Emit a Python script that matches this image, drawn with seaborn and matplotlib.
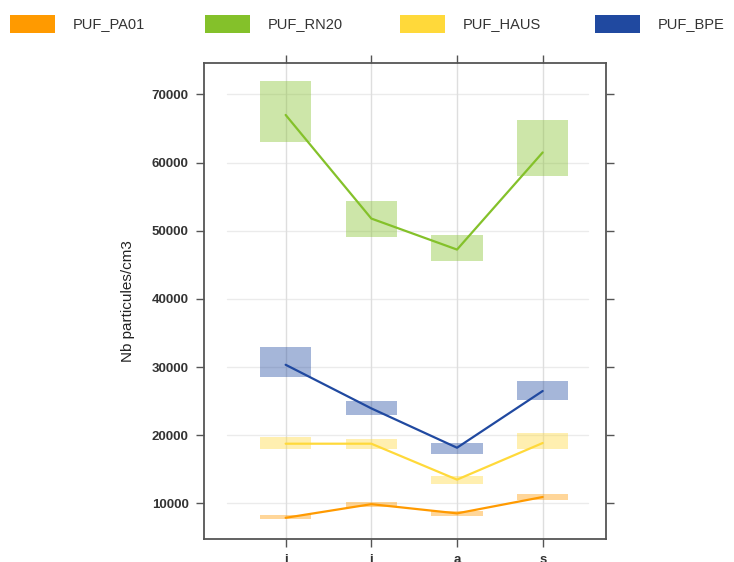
import matplotlib
matplotlib.use("Agg")
import matplotlib.pyplot as plt
import matplotlib.patches as mpatches
import numpy as np
import pandas as pd
import seaborn as sns

# Monthly mean particle counts with their confidence intervals
months = ["j", "j", "a", "s"]
sites = ["PUF_PA01", "PUF_RN20", "PUF_HAUS", "PUF_BPE"]
colors = ["#FF9A00", "#84C12A", "#FFD93A", "#2049A0"]

pa01_mean = [7900, 9900, 8550, 10950]
pa01_low = [7680, 9530, 8210, 10510]
pa01_high = [8360, 10220, 8900, 11350]

rn20_mean = [67000, 51800, 47250, 61500]
rn20_low = [63000, 49150, 45600, 58000]
rn20_high = [72000, 54350, 49400, 66200]

haus_mean = [18770, 18770, 13500, 18870]
haus_low = [18040, 18040, 12900, 17950]
haus_high = [19710, 19460, 14080, 20300]

bpe_mean = [30350, 23950, 18180, 26500]
bpe_low = [28500, 22940, 17220, 25180]
bpe_high = [32900, 25040, 18920, 28000]

means = [pa01_mean, rn20_mean, haus_mean, bpe_mean]
lows = [pa01_low, rn20_low, haus_low, bpe_low]
highs = [pa01_high, rn20_high, haus_high, bpe_high]

pos = np.arange(1, len(months) + 1)
df = pd.DataFrame({
    "pos": np.tile(pos, len(sites)),
    "value": np.concatenate(means),
    "site": np.repeat(sites, len(months)),
})

sns.set_theme(style="white")
plt.rcParams["font.family"] = ["Liberation Sans", "DejaVu Sans"]

W, H = 734, 562
fig = plt.figure(figsize=(W / 100, H / 100), dpi=100)
ax = fig.add_axes([204 / W, 1 - 539 / H, 402 / W, 476 / H])

frame_col = "#555555"
ax.set_xlim(0.047, 4.739)
ax.set_ylim(4790, 74620)

# grid
yticks = [10000, 20000, 30000, 40000, 50000, 60000, 70000]
for yv in yticks:
    ax.axhline(yv, xmin=0.057, xmax=0.955, color="#ebebeb", lw=1.0, zorder=0)
for xv in pos:
    ax.axvline(xv, color="#dedede", lw=1.0, zorder=0)

# confidence boxes
for lo, hi, c in zip(lows, highs, colors):
    lo = np.array(lo)
    hi = np.array(hi)
    ax.bar(pos, hi - lo, bottom=lo, width=0.6, color=c, alpha=0.4,
           linewidth=0, zorder=1)

# mean lines
sns.lineplot(data=df, x="pos", y="value", hue="site", hue_order=sites,
             palette=colors, linewidth=1.6, legend=False, ax=ax, zorder=3)

ax.set_xticks(pos)
ax.set_xticklabels(months)
ax.set_yticks(yticks)
ax.set_yticklabels([str(v) for v in yticks])
ax.set_xlabel("")
ax.set_ylabel("Nb particules/cm3", fontsize=11, color="#222222", labelpad=12)

ax.tick_params(axis="both", which="both", direction="out", length=6,
               width=1.0, color=frame_col, labelsize=9.5,
               labelcolor="#333333", top=True, right=True,
               labeltop=False, labelright=False, left=True, bottom=True)
ax.tick_params(axis="x", pad=4.5)
ax.tick_params(axis="y", pad=5)
for lbl in ax.get_xticklabels() + ax.get_yticklabels():
    lbl.set_fontweight("bold")

for sp in ax.spines.values():
    sp.set_visible(True)
    sp.set_color(frame_col)
    sp.set_linewidth(1.3)

# legend across the top
for i, (name, c) in enumerate(zip(sites, colors)):
    x0 = 10 + 195 * i
    fig.patches.append(mpatches.Rectangle((x0 / W, 1 - 33 / H), 45 / W, 18 / H,
                                          transform=fig.transFigure,
                                          facecolor=c, edgecolor="none"))
    fig.text((x0 + 63) / W, 1 - 24 / H, name, fontsize=10.5, color="#333333",
             ha="left", va="center")

fig.savefig("out.png", dpi=100)
